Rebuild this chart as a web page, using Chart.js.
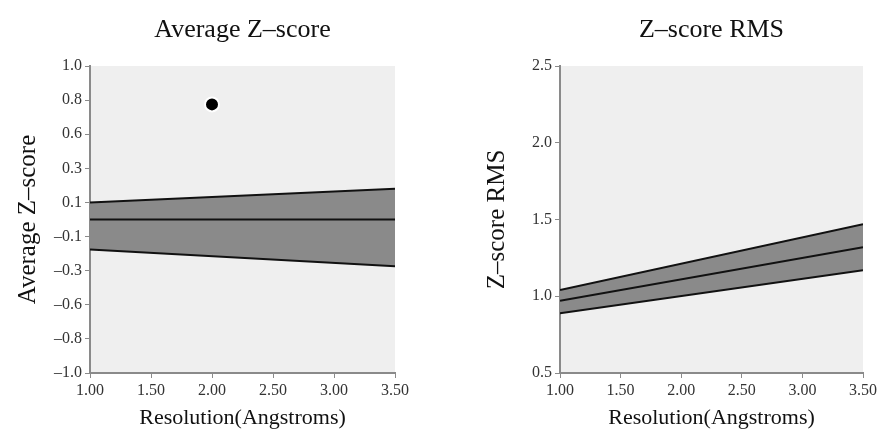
<!DOCTYPE html>
<html>
<head>
<meta charset="utf-8">
<script src="https://cdn.jsdelivr.net/npm/chart.js@4"></script>
<style>
  body { margin: 0; background: #fff; width: 883px; height: 437px; overflow: hidden; }
  canvas { position: absolute; top: 0; }
</style>
</head>
<body>
<canvas id="avgZ" width="441" height="437" style="left:0"></canvas>
<canvas id="rmsZ" width="442" height="437" style="left:441px"></canvas>
<script>
// resolution endpoints (Angstroms)
const resolution = [1.0, 3.5];

// left panel: average Z-score band
const avgUpper = [0.11, 0.20];
const avgMean = [0.0, 0.0];
const avgLower = [-0.195, -0.305];
const avgPoint = [{ x: 2.0, y: 0.75 }];
const avgYTickLabels = ["\u20131.0", "\u20130.8", "\u20130.6", "\u20130.3", "\u20130.1", "0.1", "0.3", "0.6", "0.8", "1.0"];

// right panel: Z-score RMS band
const rmsUpper = [1.04, 1.47];
const rmsMean = [0.97, 1.32];
const rmsLower = [0.89, 1.17];
const rmsYTickLabels = ["0.5", "1.0", "1.5", "2.0", "2.5"];

const xTickLabels = ["1.00", "1.50", "2.00", "2.50", "3.00", "3.50"];

const serif = "'Liberation Serif', 'DejaVu Serif', serif";
Chart.defaults.font.family = serif;
Chart.defaults.color = "#222";

const plotBg = {
    id: "plotBg",
    beforeDraw(chart) {
        const { ctx, chartArea: a } = chart;
        ctx.save();
        ctx.fillStyle = "#efefef";
        ctx.fillRect(a.left, a.top, a.right - a.left, a.bottom - a.top);
        ctx.restore();
    }
};

// panel title centred over the plot area
const panelTitle = {
    id: "panelTitle",
    afterDraw(chart, args, opts) {
        const { ctx, chartArea: a } = chart;
        ctx.save();
        ctx.font = "26px " + serif;
        ctx.fillStyle = "#111";
        ctx.textAlign = "center";
        ctx.textBaseline = "middle";
        ctx.fillText(opts.text, (a.left + a.right) / 2, 30);
        ctx.restore();
    }
};

function pts(ys) {
    return resolution.map((x, i) => ({ x: x, y: ys[i] }));
}

function makeChart(id, opts) {
    const datasets = [
        { data: pts(opts.upper), borderColor: "#111", borderWidth: 2, backgroundColor: "#8a8a8a",
          fill: 2, pointRadius: 0, order: 3 },
        { data: pts(opts.mean), borderColor: "#111", borderWidth: 2, fill: false, pointRadius: 0, order: 2 },
        { data: pts(opts.lower), borderColor: "#111", borderWidth: 2, fill: false, pointRadius: 0, order: 2 },
    ];
    if (opts.point) {
        datasets.push({ type: "scatter", data: opts.point, pointRadius: 7, pointBackgroundColor: "#000",
            pointBorderColor: "#fff", pointBorderWidth: 2, showLine: false, order: 1 });
    }
    const yLabels = opts.yLabels;
    const axisLine = "#8a8a8a";
    return new Chart(document.getElementById(id), {
        type: "line",
        data: { datasets: datasets },
        plugins: [plotBg, panelTitle],
        options: {
            responsive: false,
            animation: false,
            layout: { padding: { left: 0, right: opts.padRight, top: 66, bottom: 0 } },
            scales: {
                x: {
                    type: "linear",
                    min: 1, max: 3.5,
                    afterBuildTicks: (s) => { s.ticks = xTickLabels.map((l, i) => ({ value: 1 + i * 0.5 })); },
                    afterFit: (s) => { s.height = 64; },
                    grid: { drawOnChartArea: false, color: axisLine, tickLength: 5, lineWidth: 1 },
                    border: { color: axisLine, width: 2 },
                    ticks: {
                        maxRotation: 0,
                        padding: 3,
                        color: "#333",
                        font: { family: serif, size: 16 },
                        callback: (v, i) => xTickLabels[i],
                    },
                    title: {
                        display: true,
                        text: "Resolution(Angstroms)",
                        color: "#111",
                        font: { family: serif, size: 22 },
                        padding: { top: 0, bottom: 6 },
                    },
                },
                y: {
                    type: "linear",
                    min: opts.yMin, max: opts.yMax,
                    afterBuildTicks: (s) => {
                        const step = (opts.yMax - opts.yMin) / (yLabels.length - 1);
                        s.ticks = yLabels.map((l, i) => ({ value: opts.yMin + i * step }));
                    },
                    afterFit: (s) => { s.width = opts.yWidth; },
                    grid: { drawOnChartArea: false, color: axisLine, tickLength: 5, lineWidth: 1 },
                    border: { color: axisLine, width: 2 },
                    ticks: {
                        padding: 3,
                        color: "#333",
                        font: { family: serif, size: 16 },
                        callback: (v, i) => yLabels[i],
                    },
                    title: {
                        display: true,
                        text: opts.yTitle,
                        color: "#111",
                        font: { family: serif, size: 25 },
                        padding: { top: opts.yTitlePad, bottom: 0 },
                    },
                },
            },
            plugins: {
                legend: { display: false },
                tooltip: { enabled: false },
                title: { display: false },
                panelTitle: { text: opts.title },
            },
        },
    });
}

makeChart("avgZ", {
    title: "Average Z\u2013score",
    yTitle: "Average Z\u2013score",
    upper: avgUpper, mean: avgMean, lower: avgLower, point: avgPoint,
    yMin: -1, yMax: 1, yLabels: avgYTickLabels,
    yWidth: 90, yTitlePad: 13, padRight: 46,
});

makeChart("rmsZ", {
    title: "Z\u2013score RMS",
    yTitle: "Z\u2013score RMS",
    upper: rmsUpper, mean: rmsMean, lower: rmsLower,
    yMin: 0.5, yMax: 2.5, yLabels: rmsYTickLabels,
    yWidth: 119, yTitlePad: 41, padRight: 20,
});
</script>
</body>
</html>
